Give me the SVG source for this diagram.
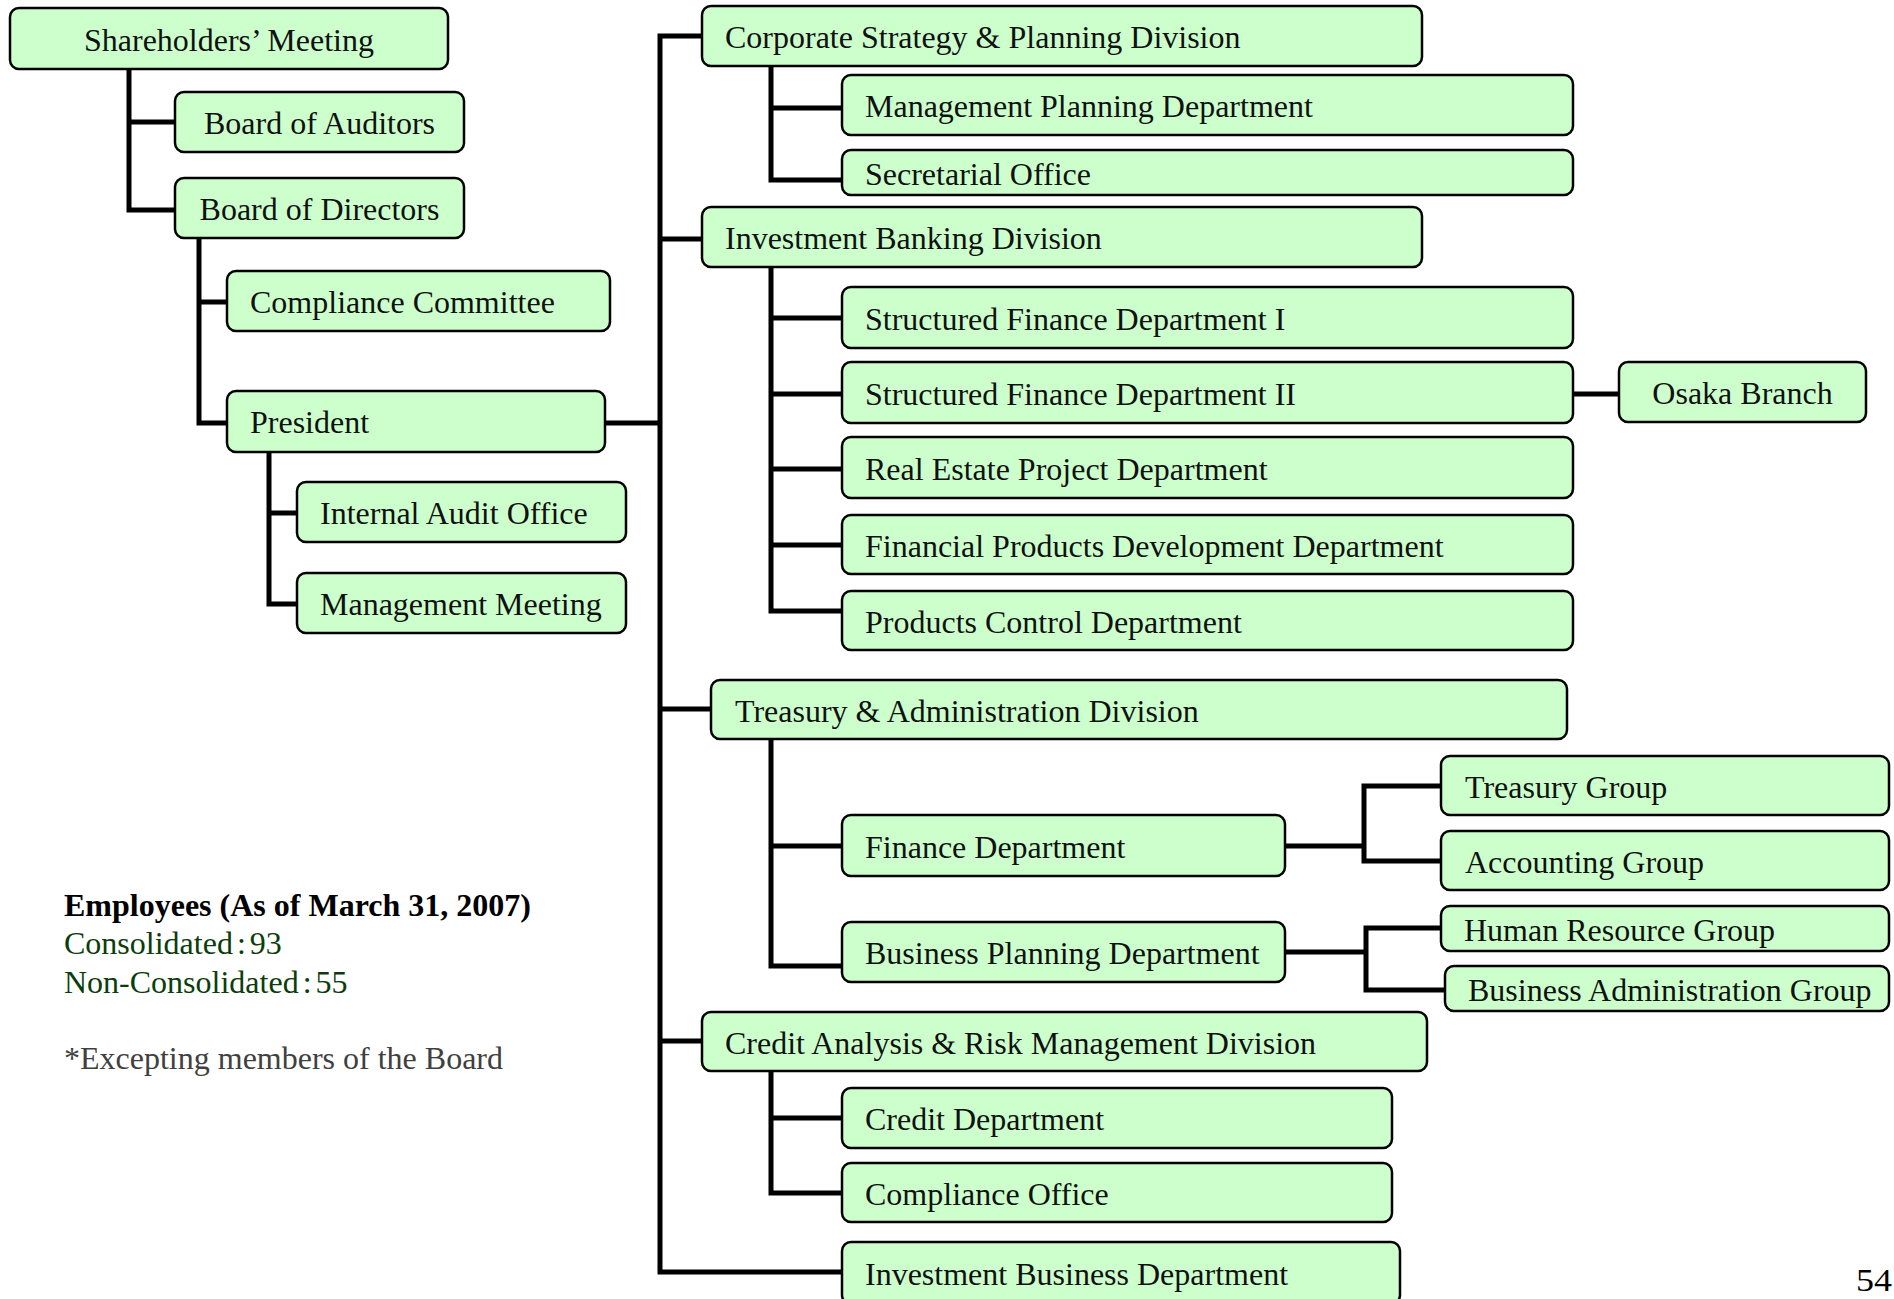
<svg xmlns="http://www.w3.org/2000/svg" width="1894" height="1299" viewBox="0 0 1894 1299">
  <style>
    .box { fill: #CCFFCC; stroke: #000; stroke-width: 2.5; }
    .lbl { font-family: "Liberation Serif", "Times New Roman", serif; font-size: 32px; fill: #111; }
    .mid { text-anchor: middle; }
    .wire { fill: none; stroke: #000; stroke-width: 5; stroke-linejoin: miter; stroke-linecap: butt; }
    .note { font-family: "Liberation Serif", "Times New Roman", serif; font-size: 32px; }
  </style>
  <rect width="1894" height="1299" fill="#fff"/>

  <!-- connectors -->
  <g id="connectors" class="wire">
    <path d="M129,69 V210 H175 M129,122 H175"/>
    <path d="M199,238 V423 H227 M199,302 H227"/>
    <path d="M269,452 V604 H297 M269,513 H297"/>
    <path d="M605,423 H660"/>
    <path d="M702,36 H660 V1272 H842 M660,239 H702 M660,709 H711 M660,1041 H702"/>
    <path d="M771,66 V180 H842 M771,108 H842"/>
    <path d="M771,267 V611 H842 M771,318 H842 M771,394 H842 M771,469 H842 M771,545 H842"/>
    <path d="M1573,394 H1619"/>
    <path d="M771,739 V966 H842 M771,846 H842"/>
    <path d="M1285,846 H1364 M1441,786 H1364 V861 H1441"/>
    <path d="M1285,952 H1366 M1441,928 H1366 V990 H1445"/>
    <path d="M771,1071 V1193 H842 M771,1118 H842"/>
  </g>

  <!-- governance -->
  <g id="shareholders"><rect class="box" x="10" y="8" width="438" height="61" rx="9"/><text class="lbl mid" x="229" y="51">Shareholders’ Meeting</text></g>
  <g id="auditors"><rect class="box" x="175" y="92" width="289" height="60" rx="9"/><text class="lbl mid" x="319.5" y="134">Board of Auditors</text></g>
  <g id="directors"><rect class="box" x="175" y="178" width="289" height="60" rx="9"/><text class="lbl mid" x="319.5" y="220">Board of Directors</text></g>
  <g id="compliance-committee"><rect class="box" x="227" y="271" width="383" height="60" rx="9"/><text class="lbl" x="250" y="313">Compliance Committee</text></g>
  <g id="president"><rect class="box" x="227" y="391" width="378" height="61" rx="9"/><text class="lbl" x="250" y="433">President</text></g>
  <g id="internal-audit"><rect class="box" x="297" y="482" width="329" height="60" rx="9"/><text class="lbl" x="320" y="524">Internal Audit Office</text></g>
  <g id="management-meeting"><rect class="box" x="297" y="573" width="329" height="60" rx="9"/><text class="lbl" x="320" y="615">Management Meeting</text></g>

  <!-- corporate strategy -->
  <g id="csp-division"><rect class="box" x="702" y="6" width="720" height="60" rx="9"/><text class="lbl" x="725" y="48">Corporate Strategy &amp; Planning Division</text></g>
  <g id="mgmt-planning"><rect class="box" x="842" y="75" width="731" height="60" rx="9"/><text class="lbl" x="865" y="117">Management Planning Department</text></g>
  <g id="secretarial"><rect class="box" x="842" y="150" width="731" height="45" rx="9"/><text class="lbl" x="865" y="185">Secretarial Office</text></g>

  <!-- investment banking -->
  <g id="ib-division"><rect class="box" x="702" y="207" width="720" height="60" rx="9"/><text class="lbl" x="725" y="249">Investment Banking Division</text></g>
  <g id="sf1"><rect class="box" x="842" y="287" width="731" height="61" rx="9"/><text class="lbl" x="865" y="330">Structured Finance Department I</text></g>
  <g id="sf2"><rect class="box" x="842" y="362" width="731" height="61" rx="9"/><text class="lbl" x="865" y="405">Structured Finance Department II</text></g>
  <g id="osaka"><rect class="box" x="1619" y="362" width="247" height="60" rx="9"/><text class="lbl mid" x="1742.5" y="404">Osaka Branch</text></g>
  <g id="real-estate"><rect class="box" x="842" y="437" width="731" height="61" rx="9"/><text class="lbl" x="865" y="480">Real Estate Project Department</text></g>
  <g id="fin-products"><rect class="box" x="842" y="515" width="731" height="59" rx="9"/><text class="lbl" x="865" y="557">Financial Products Development Department</text></g>
  <g id="products-control"><rect class="box" x="842" y="591" width="731" height="59" rx="9"/><text class="lbl" x="865" y="633">Products Control Department</text></g>

  <!-- treasury & administration -->
  <g id="ta-division"><rect class="box" x="711" y="680" width="856" height="59" rx="9"/><text class="lbl" x="735" y="722">Treasury &amp; Administration Division</text></g>
  <g id="finance"><rect class="box" x="842" y="815" width="443" height="61" rx="9"/><text class="lbl" x="865" y="858">Finance Department</text></g>
  <g id="business-planning"><rect class="box" x="842" y="922" width="443" height="60" rx="9"/><text class="lbl" x="865" y="964">Business Planning Department</text></g>
  <g id="treasury-group"><rect class="box" x="1441" y="756" width="448" height="59" rx="9"/><text class="lbl" x="1465" y="798">Treasury Group</text></g>
  <g id="accounting-group"><rect class="box" x="1441" y="831" width="448" height="59" rx="9"/><text class="lbl" x="1465" y="873">Accounting Group</text></g>
  <g id="hr-group"><rect class="box" x="1441" y="906" width="448" height="45" rx="9"/><text class="lbl" x="1464" y="941">Human Resource Group</text></g>
  <g id="admin-group"><rect class="box" x="1445" y="966" width="444" height="45" rx="9"/><text class="lbl" x="1468" y="1001">Business Administration Group</text></g>

  <!-- credit analysis & risk -->
  <g id="carm-division"><rect class="box" x="702" y="1012" width="725" height="59" rx="9"/><text class="lbl" x="725" y="1054">Credit Analysis &amp; Risk Management Division</text></g>
  <g id="credit"><rect class="box" x="842" y="1088" width="550" height="60" rx="9"/><text class="lbl" x="865" y="1130">Credit Department</text></g>
  <g id="compliance-office"><rect class="box" x="842" y="1163" width="550" height="59" rx="9"/><text class="lbl" x="865" y="1205">Compliance Office</text></g>
  <g id="investment-business"><rect class="box" x="842" y="1242" width="558" height="62" rx="9"/><text class="lbl" x="865" y="1285">Investment Business Department</text></g>

  <!-- headcount notes -->
  <g id="employees">
    <text class="note" x="64" y="916" font-weight="bold" fill="#000">Employees (As of March 31, 2007)</text>
    <text class="note" x="64" y="954" fill="#0b3d0b">Consolidated<tspan dx="4">:</tspan><tspan dx="4">93</tspan></text>
    <text class="note" x="64" y="993" fill="#0b3d0b">Non-Consolidated<tspan dx="4">:</tspan><tspan dx="4">55</tspan></text>
    <text class="note" x="64" y="1069" fill="#404040">*Excepting members of the Board</text>
  </g>

  <!-- page number -->
  <text class="note" x="1856" y="1291" font-size="44" textLength="36" lengthAdjust="spacingAndGlyphs" fill="#000">54</text>
</svg>
